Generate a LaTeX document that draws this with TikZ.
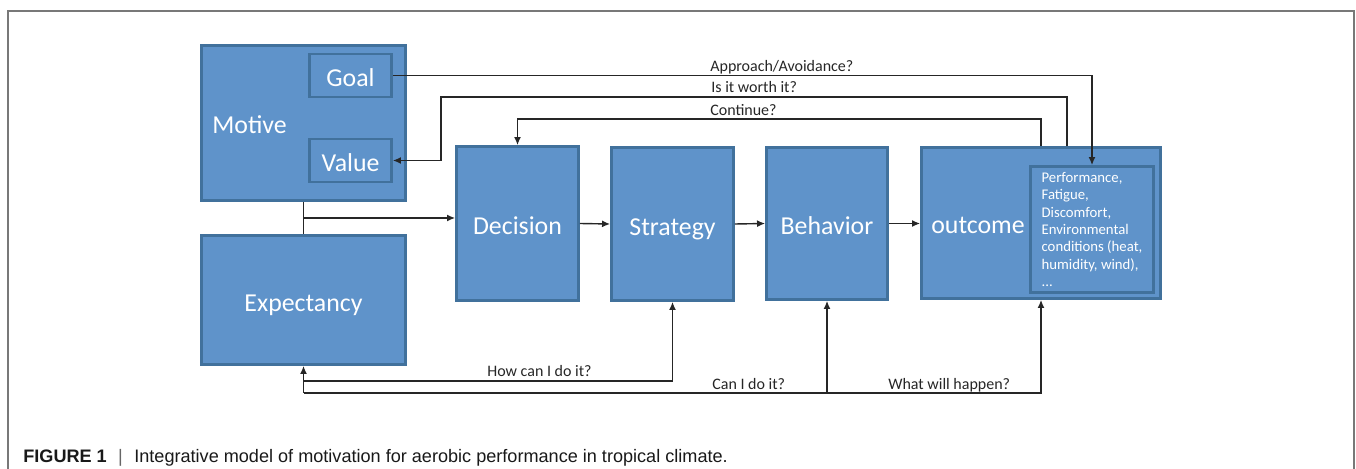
\documentclass[tikz,border=0pt]{standalone}
\usepackage{fontspec}
\setmainfont{Carlito}
\newfontfamily\capfont{Liberation Sans}
\usetikzlibrary{arrows.meta}

\definecolor{boxfill}{RGB}{95,147,202}
\definecolor{boxedge}{RGB}{65,113,156}
\definecolor{framegray}{RGB}{120,120,120}

\tikzset{
  block/.style={draw=boxedge, fill=boxfill, line width=1.6pt, text=white, inner sep=0pt,
    font=\fontsize{14.7}{16}\selectfont, text height=13pt, text depth=0pt},
  blocklbl/.style={text=white, inner sep=0pt, font=\fontsize{14.7}{16}\selectfont},
  conn/.style={line width=0.8pt, black!85},
  qlbl/.style={inner sep=0pt, anchor=base west, text=black!85, font=\fontsize{9.1}{10}\selectfont}
}

\begin{document}
\begin{tikzpicture}[x=0.02cm, y=-0.02cm, >={Latex[length=4.6pt,width=4pt]}]
        \useasboundingbox (0,0) rectangle (1356,469);
        \draw[framegray, line width=0.7pt] (8,469) -- (8,11) -- (1354,11) -- (1354,469);

        % left column
        \node[block, minimum width=4.08cm, minimum height=3.1cm] (motive) at (303.5,123) {};
        \node[blocklbl, anchor=base west] (motivetxt) at (212,134) {Motive};
        \node[block, minimum width=1.64cm, minimum height=0.86cm] (goal) at (350.5,75.5) {Goal};
        \node[block, minimum width=1.64cm, minimum height=0.86cm] (value) at (350.5,160.5) {Value};
        \node[block, minimum width=4.08cm, minimum height=2.58cm] (expect) at (303.5,300) {Expectancy};

        % main chain
        \node[block, minimum width=2.44cm, minimum height=3.08cm] (decision) at (517.5,223.5) {Decision};
        \node[block, minimum width=2.44cm, minimum height=3.06cm] (strategy) at (672.5,224) {Strategy};
        \node[block, minimum width=2.42cm, minimum height=3.04cm] (behavior) at (827,223.5) {Behavior};
        \node[block, minimum width=4.78cm, minimum height=3.02cm] (outcome) at (1041,223) {};
        \node[blocklbl, anchor=base] (outcometxt) at (978,234) {outcome};
        \node[block, minimum width=2.46cm, minimum height=2.52cm, text height=, text depth=,
              align=left, font=\fontsize{8.4}{9.9}\selectfont] (results) at (1092,229.5)
              {Performance,\\Fatigue,\\Discomfort,\\Environmental\\conditions (heat,\\humidity, wind),\\...};

        \draw[conn, ->] (decision.east) -- (strategy.west);
        \draw[conn, ->] (strategy.east) -- (behavior.west);
        \draw[conn, ->] (behavior.east) -- (behavior.east -| outcome.west);

        % motive and expectancy feed the decision
        \coordinate (split) at (303.5,218);
        \draw[conn] (motive.south) -- (expect.north);
        \draw[conn, ->] (split) -- (split -| decision.west);

        % feedback loops on top
        \coordinate (worthR) at (1067,97);
        \coordinate (worthL) at (441,97);
        \coordinate (contL) at (517.5,119);
        \draw[conn, ->] (goal.east) -| (results.north);
        \draw[conn, ->] (outcome.north -| worthR) |- (worthL) |- (value.east);
        \draw[conn, ->] (outcome.north) |- (contL) -- (decision.north);
        \node[qlbl] (approach) at (710,72) {Approach/Avoidance?};
        \node[qlbl] (worth) at (711,93) {Is it worth it?};
        \node[qlbl] (cont) at (710,116) {Continue?};

        % feedback loops below
        \coordinate (howL) at (303.5,381);
        \coordinate (canL) at (303.5,393);
        \draw[conn, ->] (howL) -| (strategy.south);
        \draw[conn, ->] (canL) -- (expect.south);
        \draw[conn, ->] (canL) -| (outcome.south);
        \draw[conn, ->] (canL -| behavior.south) -- (behavior.south);
        \node[qlbl] (how) at (487,377) {How can I do it?};
        \node[qlbl] (can) at (712,390) {Can I do it?};
        \node[qlbl] (what) at (888,390) {What will happen?};

        \node[anchor=base west, inner sep=0pt, text=black!90, font=\capfont\fontsize{10.3}{12}\selectfont] (caption) at (23,462)
              {\textbf{FIGURE 1}\hspace{6.5pt}\textcolor{black!60}{|}\hspace{6.5pt}Integrative model of motivation for aerobic performance in tropical climate.};
\end{tikzpicture}
\end{document}
